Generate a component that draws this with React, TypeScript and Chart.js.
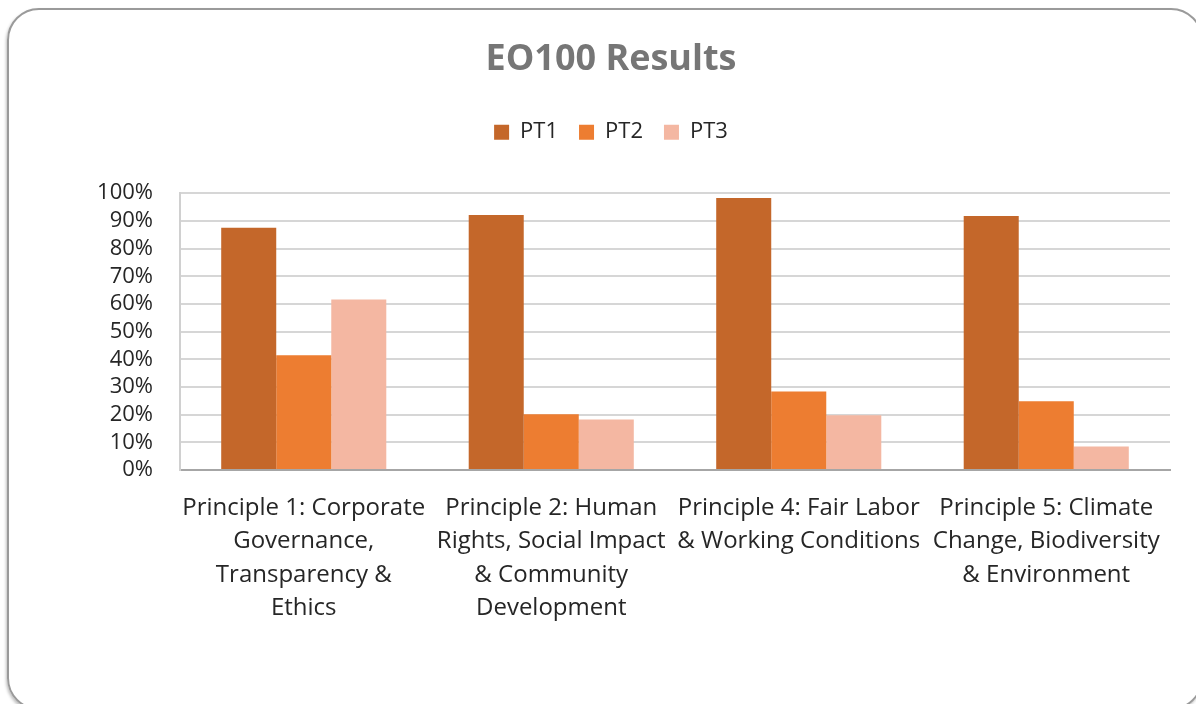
import React, { useEffect, useRef } from "react";
import { Chart, registerables } from "chart.js";

Chart.register(...registerables);

const categories: string[][] = [
  ["Principle 1: Corporate", "Governance,", "Transparency &", "Ethics"],
  ["Principle 2: Human", "Rights, Social Impact", "& Community", "Development"],
  ["Principle 4: Fair Labor", "& Working Conditions"],
  ["Principle 5: Climate", "Change, Biodiversity", "& Environment"],
];
const seriesNames = ["PT1", "PT2", "PT3"];
const pt1 = [87.5, 92.1, 98.3, 91.8];
const pt2 = [41.5, 20.1, 28.4, 24.8];
const pt3 = [61.6, 18.2, 19.8, 8.5];
const colors = ["#C4672A", "#ED7D31", "#F4B7A2"];

const FONT = "'Open Sans', Lato, sans-serif";

const legendSpacer = {
  id: "legendSpacer",
  afterInit(chart: any) {
    const legend = chart.legend;
    if (!legend) return;
    const orig = legend.fit;
    legend.fit = function () {
      orig.call(this);
      this.height += 40;
    };
  },
};

export default function App() {
  const ref = useRef<HTMLCanvasElement | null>(null);
  useEffect(() => {
    if (!ref.current) return;
    const chart = new Chart(ref.current, {
      type: "bar",
      data: {
        labels: categories,
        datasets: [pt1, pt2, pt3].map((d, i) => ({
          label: seriesNames[i],
          data: d,
          backgroundColor: colors[i],
          borderWidth: 0,
          categoryPercentage: 0.667,
          barPercentage: 1,
        })),
      },
      options: {
        responsive: false,
        animation: false,
        layout: { padding: { left: 52, right: 26, top: 0, bottom: 0 } },
        plugins: {
          title: {
            display: true,
            text: "EO100 Results",
            color: "#767676",
            font: { family: FONT, size: 36, weight: "bold", lineHeight: 1.2 },
            padding: { top: 38, bottom: 19 },
          },
          legend: {
            display: true,
            position: "top",
            labels: {
              boxWidth: 15,
              boxHeight: 15,
              padding: 21,
              color: "#262626",
              font: { family: FONT, size: 22 },
            },
          },
          tooltip: { enabled: false },
        },
        scales: {
          x: {
            grid: { display: false, drawTicks: false },
            border: { display: true, color: "#a6a6a6", width: 2 },
            ticks: {
              color: "#262626",
              padding: 21,
              autoSkip: false,
              maxRotation: 0,
              minRotation: 0,
              font: { family: FONT, size: 24, lineHeight: 1.4 },
            },
            afterFit: (s: any) => {
              s.height = 234;
            },
          },
          y: {
            min: 0,
            max: 100,
            ticks: {
              stepSize: 10,
              autoSkip: false,
              padding: 27,
              color: "#262626",
              font: { family: FONT, size: 22 },
              callback: (v: any) => `${v}%`,
            },
            grid: { color: "#d6d6d6", lineWidth: 2, drawTicks: false },
            border: { display: true, color: "#d0d0d0", width: 2 },
            afterFit: (s: any) => {
              s.width = 128;
            },
          },
        },
      },
      plugins: [legendSpacer],
    });
    return () => chart.destroy();
  }, []);

  return (
    <div
      style={{
        position: "fixed",
        left: 0,
        top: 0,
        width: 1196,
        height: 704,
        overflow: "hidden",
        background: "#ffffff",
      }}
    >
      <div
        style={{
          position: "absolute",
          left: 7,
          top: 8,
          width: 1196,
          height: 702,
          border: "2px solid #9a9a9a",
          borderRadius: 32,
          boxShadow: "-1px 2px 3px rgba(0,0,0,0.25)",
          boxSizing: "border-box",
        }}
      />
      <canvas
        ref={ref}
        width={1196}
        height={704}
        style={{ position: "absolute", left: 0, top: 0, display: "block" }}
      />
    </div>
  );
}
